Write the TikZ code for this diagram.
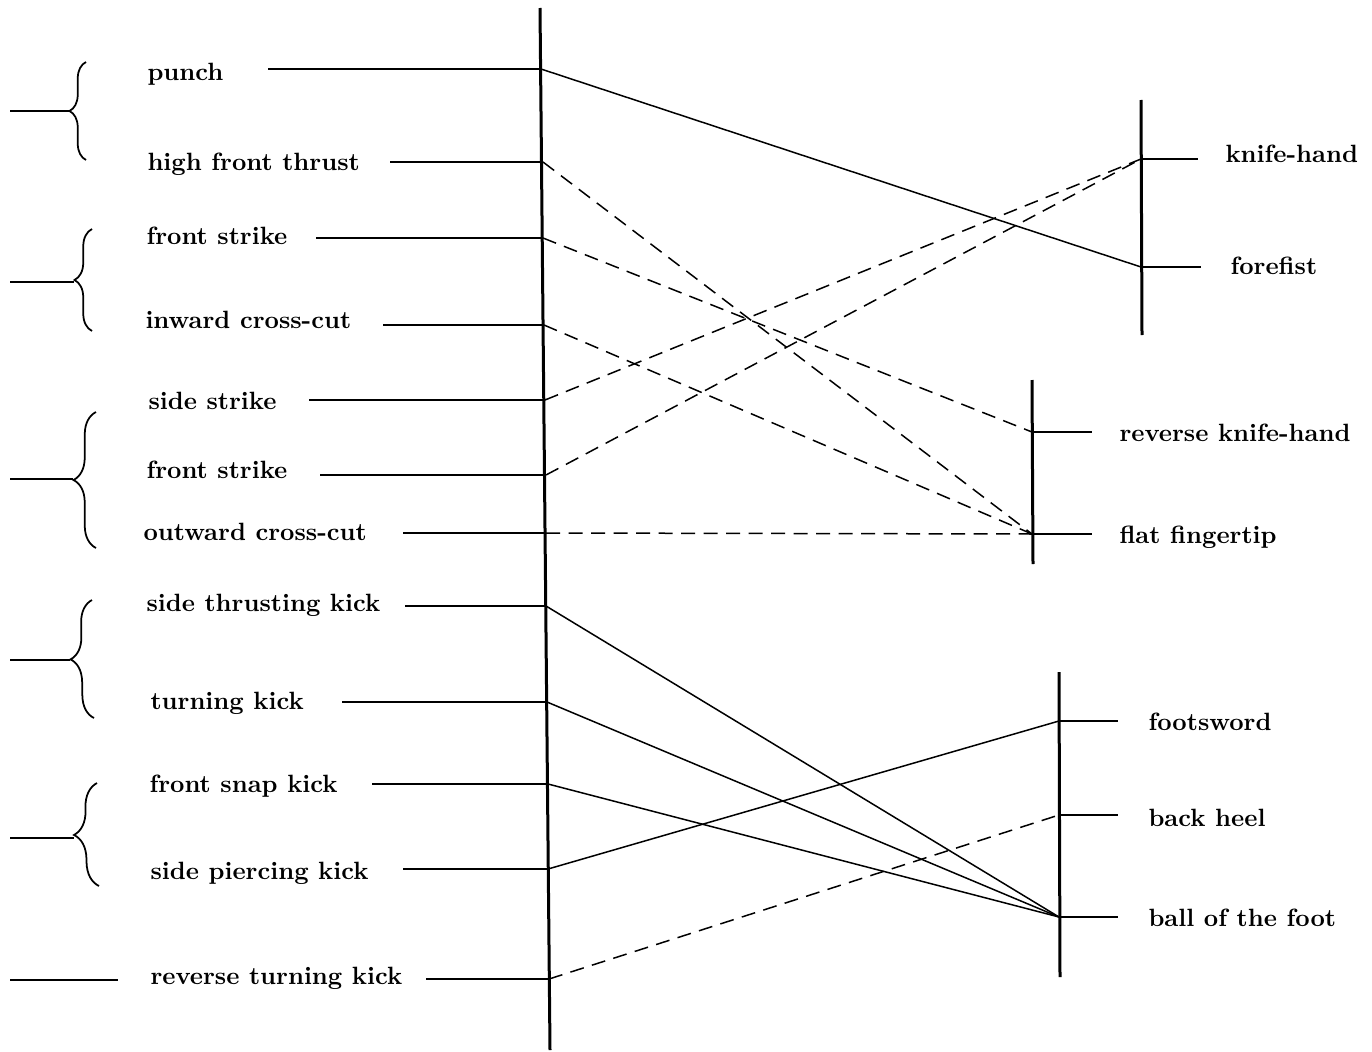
\documentclass[tikz,border=0pt]{standalone}
\usetikzlibrary{decorations.pathreplacing}
\begin{document}
\begin{tikzpicture}[x=0.4pt,y=-0.4pt,
  axisline/.style={line width=1.2pt},
  tickline/.style={line width=0.85pt},
  link/.style={line width=0.6pt},
  dlink/.style={line width=0.6pt,dash pattern=on 5.6pt off 3.4pt},
  lbl/.style={anchor=base west,inner sep=0pt,font=\fontsize{10}{12}\selectfont\bfseries},
  brc/.style={line width=0.7pt,decorate,decoration={brace,amplitude=#1,aspect=0.5}}]
\useasboundingbox (0,0) rectangle (1372,1052);
% main axis
\coordinate (mtop) at (540,8);
\coordinate (mbot) at (550,1050);
\draw[axisline] (mtop) -- (mbot);
% points on main axis
\coordinate (a1) at (541,69);
\coordinate (a2) at (543,162);
\coordinate (a3) at (543,238);
\coordinate (a4) at (544,325);
\coordinate (a5) at (545,400);
\coordinate (a6) at (546,475);
\coordinate (a7) at (546,533);
\coordinate (a8) at (546,606);
\coordinate (a9) at (547,702);
\coordinate (a10) at (548,784);
\coordinate (a11) at (548,869);
\coordinate (a12) at (549,979);
% left labels
\node[lbl] (t1) at (147,81) {punch};
\node[lbl] (t2) at (147,171) {high front thrust};
\node[lbl] (t3) at (146,244) {front strike};
\node[lbl] (t4) at (145,328) {inward cross-cut};
\node[lbl] (t5) at (148,409) {side strike};
\node[lbl] (t6) at (146,478) {front strike};
\node[lbl] (t7) at (143,540) {outward cross-cut};
\node[lbl] (t8) at (146,611) {side thrusting kick};
\node[lbl] (t9) at (150,709) {turning kick};
\node[lbl] (t10) at (149,792) {front snap kick};
\node[lbl] (t11) at (150,879) {side piercing kick};
\node[lbl] (t12) at (150,984) {reverse turning kick};
% line starts
\coordinate (s1) at (268,69);
\coordinate (s2) at (390,162);
\coordinate (s3) at (316,238);
\coordinate (s4) at (383,325);
\coordinate (s5) at (309,400);
\coordinate (s6) at (320,475);
\coordinate (s7) at (403,533);
\coordinate (s8) at (405,606);
\coordinate (s9) at (342,702);
\coordinate (s10) at (372,784);
\coordinate (s11) at (403,869);
\coordinate (s12) at (426,979);
\foreach \i in {1,...,12} {\draw[tickline] (s\i) -- (a\i);}
% braces
\coordinate (b1t) at (86,62);  \coordinate (b1b) at (86,160);
\coordinate (b2t) at (92,229); \coordinate (b2b) at (92,331);
\coordinate (b3t) at (96,412); \coordinate (b3b) at (96,548);
\coordinate (b4t) at (92,600); \coordinate (b4b) at (94,718);
\coordinate (b5t) at (97,783); \coordinate (b5b) at (99,886);
\draw[brc=6.6pt] (b1b) -- (b1t);
\draw[brc=7pt] (b2b) -- (b2t);
\draw[brc=9pt] (b3b) -- (b3t);
\draw[brc=9pt] (b4b) -- (b4t);
\draw[brc=9.6pt] (b5b) -- (b5t);
\coordinate (g1) at (10,111); \coordinate (p1) at (70,111);
\coordinate (g2) at (10,282); \coordinate (p2) at (74,282);
\coordinate (g3) at (10,479); \coordinate (p3) at (73,479);
\coordinate (g4) at (10,660); \coordinate (p4) at (70,660);
\coordinate (g5) at (10,838); \coordinate (p5) at (74,838);
\coordinate (g6) at (10,980); \coordinate (p6) at (118,980);
\foreach \i in {1,...,6} {\draw[tickline] (g\i) -- (p\i);}
% right axes
\coordinate (r1t) at (1141,100); \coordinate (r1b) at (1142,335);
\coordinate (r2t) at (1032,380); \coordinate (r2b) at (1033,564);
\coordinate (r3t) at (1059,672); \coordinate (r3b) at (1060,977);
\draw[axisline] (r1t) -- (r1b);
\draw[axisline] (r2t) -- (r2b);
\draw[axisline] (r3t) -- (r3b);
\coordinate (kh) at (1141,159);  \coordinate (khe) at (1198,159);
\coordinate (ff) at (1141,267);  \coordinate (ffe) at (1201,267);
\coordinate (rk) at (1032,432);  \coordinate (rke) at (1092,432);
\coordinate (ft) at (1032,534);  \coordinate (fte) at (1092,534);
\coordinate (fs) at (1059,721);  \coordinate (fse) at (1118,721);
\coordinate (bh) at (1059,815);  \coordinate (bhe) at (1118,815);
\coordinate (bf) at (1059,917);  \coordinate (bfe) at (1118,917);
\draw[tickline] (kh) -- (khe);
\draw[tickline] (ff) -- (ffe);
\draw[tickline] (rk) -- (rke);
\draw[tickline] (ft) -- (fte);
\draw[tickline] (fs) -- (fse);
\draw[tickline] (bh) -- (bhe);
\draw[tickline] (bf) -- (bfe);
\node[lbl] (ukh) at (1225,162) {knife-hand};
\node[lbl] (uff) at (1230,274) {forefist};
\node[lbl] (urk) at (1119,441) {reverse knife-hand};
\node[lbl] (uft) at (1119,543) {flat fingertip};
\node[lbl] (ufs) at (1148,730) {footsword};
\node[lbl] (ubh) at (1148,826) {back heel};
\node[lbl] (ubf) at (1148,926) {ball of the foot};
% connectors
\draw[link] (a1) -- (ff);
\draw[dlink] (a2) -- (ft);
\draw[dlink] (a3) -- (rk);
\draw[dlink] (a4) -- (ft);
\draw[dlink] (a5) -- (kh);
\draw[dlink] (a6) -- (kh);
\draw[dlink] (a7) -- (ft);
\draw[link] (a8) -- (bf);
\draw[link] (a9) -- (bf);
\draw[link] (a10) -- (bf);
\draw[link] (a11) -- (fs);
\draw[dlink] (a12) -- (bh);
\end{tikzpicture}
\end{document}
